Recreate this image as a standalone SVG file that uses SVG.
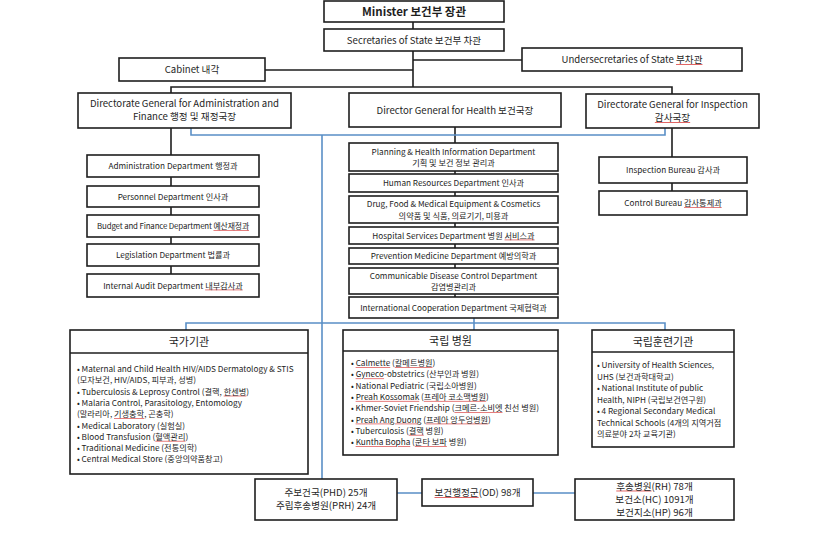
<svg xmlns="http://www.w3.org/2000/svg" width="839" height="537" viewBox="0 0 839 537">
<style>
text{font-family:"Noto Sans CJK KR","Noto Sans",sans-serif;fill:#1e1e1e;font-size:8.2px}
.c{text-anchor:middle}
.b{stroke:#1e1e1e;stroke-width:1.6;fill:#fff}
.k{stroke:#1e1e1e;stroke-width:1.6;fill:none}
.bl{stroke:#5a8fc6;stroke-width:1.6;fill:none}
.t{font-size:11px}
.m{font-size:9.6px}
.sp{text-decoration:underline;fill:#e06060}
.sp tspan{fill:#1e1e1e}
</style>
<rect width="839" height="537" fill="#fff"/>
<g id="connectors">
<path class="k" d="M413 22V87M265 70H413M413 60H522M171 93V87H672V94M171 128V297M455 127V298M672 128V191"/>
<path class="bl" d="M191 128V135H665V128M322 135V479M186 330V323H665V330M474 318V330M397 493H422M533 493H575"/>
</g>
<g id="minister"><rect class="b" x="324" y="1" width="180" height="21"/><text class="c" x="414" y="15.5" style="font-size:11.5px;font-weight:bold">Minister 보건부 장관</text></g>
<g id="secretaries"><rect class="b" x="324" y="29" width="180" height="22"/><text class="c m" x="414" y="44">Secretaries of State 보건부 차관</text></g>
<g id="cabinet"><rect class="b" x="119" y="58" width="146" height="23"/><text class="c m" x="192" y="73">Cabinet 내각</text></g>
<g id="undersecretaries"><rect class="b" x="522" y="48" width="220" height="23"/><text class="c m" x="632" y="63">Undersecretaries of State <tspan class="sp"><tspan>부차관</tspan></tspan></text></g>
<g id="dg-admin"><rect class="b" x="78" y="93" width="213" height="35"/><text class="c m" x="184.5" y="107">Directorate General for Administration and</text><text class="c m" x="184.5" y="120">Finance 행정 및 재정국장</text></g>
<g id="dg-health"><rect class="b" x="349" y="93" width="212" height="34"/><text class="c m" x="455" y="113.5">Director General for Health 보건국장</text></g>
<g id="dg-inspection"><rect class="b" x="586" y="94" width="173" height="34"/><text class="c m" x="672.5" y="107.5">Directorate General for Inspection</text><text class="c m" x="672.5" y="121"><tspan class="sp"><tspan>감사국장</tspan></tspan></text></g>

<g id="admin-dept"><rect class="b" x="87" y="155" width="172" height="22"/><text class="c" x="173" y="169">Administration Department 행정과</text></g>
<g id="personnel-dept"><rect class="b" x="87" y="186" width="172" height="21"/><text class="c" x="173" y="199.5">Personnel Department 인사과</text></g>
<g id="budget-dept"><rect class="b" x="87" y="215" width="172" height="22"/><text class="c" x="173" y="229" style="font-size:7.9px;letter-spacing:-0.15px">Budget and Finance Department <tspan class="sp"><tspan>예산재정과</tspan></tspan></text></g>
<g id="legislation-dept"><rect class="b" x="87" y="244" width="172" height="22"/><text class="c" x="173" y="258">Legislation Department 법률과</text></g>
<g id="audit-dept"><rect class="b" x="87" y="274" width="172" height="23"/><text class="c" x="173" y="288.5">Internal Audit Department <tspan class="sp"><tspan>내부감사과</tspan></tspan></text></g>

<g id="planning-dept"><rect class="b" x="349" y="143" width="209" height="28"/><text class="c" x="453.5" y="154.5">Planning &amp; Health Information Department</text><text class="c" x="453.5" y="166">기획 및 보건 정보 관리과</text></g>
<g id="hr-dept"><rect class="b" x="349" y="174" width="209" height="18"/><text class="c" x="453.5" y="186">Human Resources Department 인사과</text></g>
<g id="drug-dept"><rect class="b" x="349" y="196" width="209" height="27"/><text class="c" x="453.5" y="207">Drug, Food &amp; Medical Equipment &amp; Cosmetics</text><text class="c" x="453.5" y="218.5">의약품 및 식품, 의료기기, 미용과</text></g>
<g id="hospital-dept"><rect class="b" x="349" y="227" width="209" height="17"/><text class="c" x="453.5" y="238.5">Hospital Services Department 병원 <tspan class="sp"><tspan>서비스과</tspan></tspan></text></g>
<g id="prevention-dept"><rect class="b" x="349" y="248" width="209" height="16"/><text class="c" x="453.5" y="259">Prevention Medicine Department 예방의학과</text></g>
<g id="cdc-dept"><rect class="b" x="349" y="268" width="209" height="26"/><text class="c" x="453.5" y="279">Communicable Disease Control Department</text><text class="c" x="453.5" y="290">감염병관리과</text></g>
<g id="intl-dept"><rect class="b" x="349" y="297" width="209" height="21"/><text class="c" x="453.5" y="310.5">International Cooperation Department 국제협력과</text></g>

<g id="inspection-bureau"><rect class="b" x="599" y="157" width="148" height="26"/><text class="c" x="673" y="173">Inspection Bureau 감사과</text></g>
<g id="control-bureau"><rect class="b" x="599" y="191" width="148" height="24"/><text class="c" x="673" y="206">Control Bureau <tspan class="sp"><tspan>감사통제과</tspan></tspan></text></g>

<g id="national-agencies"><rect class="b" x="70" y="330" width="238" height="144"/><path class="k" d="M70 353H308"/><text class="c t" x="189" y="346">국가기관</text>
<text x="77" y="372">• Maternal and Child Health HIV/AIDS Dermatology &amp; STIS</text>
<text x="77" y="383.3">(모자보건, HIV/AIDS, 피부과, 성병)</text>
<text x="77" y="394.6">• Tuberculosis &amp; Leprosy Control (결핵, <tspan class="sp"><tspan>한센병</tspan></tspan>)</text>
<text x="77" y="405.9">• Malaria Control, Parasitology, Entomology</text>
<text x="77" y="417.2">(말라리아, <tspan class="sp"><tspan>기생충학</tspan></tspan>, 곤충학)</text>
<text x="77" y="428.5">• Medical Laboratory (실험실)</text>
<text x="77" y="439.8">• Blood Transfusion (<tspan class="sp"><tspan>혈액관리</tspan></tspan>)</text>
<text x="77" y="451.1">• Traditional Medicine (전통의학)</text>
<text x="77" y="462.4">• Central Medical Store (중앙의약품창고)</text>
</g>
<g id="national-hospitals"><rect class="b" x="343" y="330" width="215" height="125"/><path class="k" d="M343 351H558"/><text class="c t" x="450.5" y="345">국립 병원</text>
<text x="351" y="366">• <tspan class="sp"><tspan>Calmette</tspan></tspan> (<tspan class="sp"><tspan>칼메트병원</tspan></tspan>)</text>
<text x="351" y="377.3">• <tspan class="sp"><tspan>Gyneco</tspan></tspan>-obstetrics (산부인과 병원)</text>
<text x="351" y="388.6">• National Pediatric (국립소아병원)</text>
<text x="351" y="399.9">• <tspan class="sp"><tspan>Preah Kossomak</tspan></tspan> (<tspan class="sp"><tspan>프레아 코소맥병원</tspan></tspan>)</text>
<text x="351" y="411.2">• Khmer-Soviet Friendship (<tspan class="sp"><tspan>크메르-소비엣</tspan></tspan> 친선 병원)</text>
<text x="351" y="422.5">• <tspan class="sp"><tspan>Preah Ang Duong</tspan></tspan> (<tspan class="sp"><tspan>프레아 앙두엉병원</tspan></tspan>)</text>
<text x="351" y="433.8">• Tuberculosis (<tspan class="sp"><tspan>결핵</tspan></tspan> 병원)</text>
<text x="351" y="445.1">• <tspan class="sp"><tspan>Kuntha Bopha</tspan></tspan> (<tspan class="sp"><tspan>쿤타 보파</tspan></tspan> 병원)</text>
</g>
<g id="training-institutions"><rect class="b" x="592" y="330" width="142" height="117"/><path class="k" d="M592 352H734"/><text class="c t" x="663" y="346">국립훈련기관</text>
<text x="597" y="368">• University of Health Sciences,</text>
<text x="597" y="379.5">UHS (보건과학대학교)</text>
<text x="597" y="391">• National Institute of public</text>
<text x="597" y="402.5">Health, NIPH (국립보건연구원)</text>
<text x="597" y="414">• 4 Regional Secondary Medical</text>
<text x="597" y="425.5">Technical Schools (4개의 지역거점</text>
<text x="597" y="437">의료분야 2차 교육기관)</text>
</g>
<g id="phd"><rect class="b" x="255" y="479" width="142" height="41"/><text class="c m" x="326" y="496">주보건국(PHD) 25개</text><text class="c m" x="326" y="509">주립후송병원(PRH) 24개</text></g>
<g id="od"><rect class="b" x="422" y="479" width="111" height="27"/><text class="c m" x="477.5" y="496"><tspan class="sp"><tspan>보건행정군</tspan></tspan>(OD) 98개</text></g>
<g id="rh"><rect class="b" x="575" y="479" width="159" height="41"/><text class="c m" x="654.5" y="489.5"><tspan class="sp"><tspan>후송병원</tspan></tspan>(RH) 78개</text><text class="c m" x="654.5" y="502.5">보건소(HC) 1091개</text><text class="c m" x="654.5" y="515.5">보건지소(HP) 96개</text></g>
</svg>
